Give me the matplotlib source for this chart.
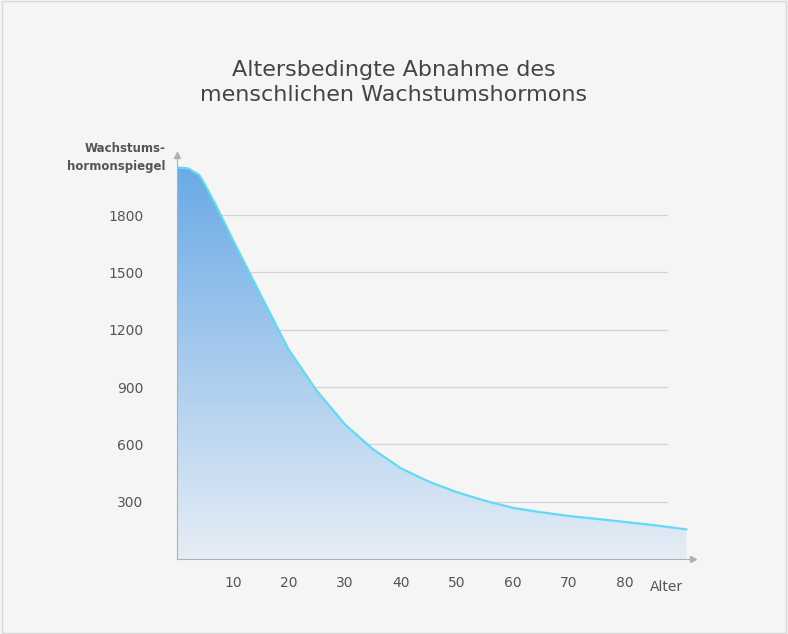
import matplotlib.pyplot as plt
import numpy as np
from matplotlib.patches import Polygon

age = [0, 2, 4, 5, 7, 10, 15, 20, 25, 30, 35, 40, 45, 50, 55, 60, 65, 70, 75, 80, 85, 91]
level = [2050, 2045, 2010, 1960, 1850, 1670, 1380, 1094, 880, 705, 575, 475, 405, 350,
         305, 268, 245, 225, 210, 194, 178, 155]
x_ticks = [10, 20, 30, 40, 50, 60, 70, 80]
y_ticks = [300, 600, 900, 1200, 1500, 1800]

fig = plt.figure(figsize=(7.88, 6.34), dpi=100)
fig.patch.set_facecolor("#f5f5f5")
fig.patches.append(plt.Rectangle((0.002, 0.002), 0.996, 0.996, transform=fig.transFigure,
                                 fill=False, edgecolor="#d8d8d8", lw=1))
ax = fig.add_axes([177 / 788, 75 / 634, 516 / 788, 404 / 634])
ax.set_facecolor("#f5f5f5")
ax.set_xlim(0, 92.2)
ax.set_ylim(0, 2115)

for yv in y_ticks:
    ax.plot([0, 87.5], [yv, yv], color="#d4d4d4", lw=0.9, zorder=1)

# gradient fill clipped to the area under the curve
grad = np.linspace(0, 1, 256).reshape(-1, 1)
from matplotlib.colors import LinearSegmentedColormap
cmap = LinearSegmentedColormap.from_list("g", ["#e6edf5", "#6aaae6"])
im = ax.imshow(grad, extent=[0, 91, 0, 2050], origin="lower", aspect="auto",
               cmap=cmap, zorder=2)
poly = Polygon(list(zip(age, level)) + [(91, 0), (0, 0)], closed=True,
               transform=ax.transData, facecolor="none", edgecolor="none")
ax.add_patch(poly)
im.set_clip_path(poly)
ax.plot(age, level, color="#62daf7", lw=1.6, zorder=3)

for s in ["top", "right"]:
    ax.spines[s].set_visible(False)
for s in ["left", "bottom"]:
    ax.spines[s].set_color("#b0b0b0")
ax.plot(1, 0, ">", color="#b0b0b0", ms=5, transform=ax.transAxes, clip_on=False)
ax.plot(0, 1, "^", color="#b0b0b0", ms=5, transform=ax.transAxes, clip_on=False)

ax.set_xticks(x_ticks)
ax.set_yticks(y_ticks)
ax.tick_params(length=0, colors="#555555", labelsize=10, pad=12)
ax.tick_params(axis="y", pad=24)
ax.text(-2, 2020, "Wachstums-\nhormonspiegel", ha="right", va="bottom", fontsize=8.5,
        color="#555555", fontweight="bold", linespacing=1.5)
ax.text(87.5, -110, "Alter", ha="center", va="top", fontsize=10, color="#555555")

fig.text(0.5, 0.87, "Altersbedingte Abnahme des\nmenschlichen Wachstumshormons",
         ha="center", va="center", fontsize=16, color="#444444", linespacing=1.3)

fig.savefig("out.png", dpi=100, facecolor=fig.get_facecolor())
